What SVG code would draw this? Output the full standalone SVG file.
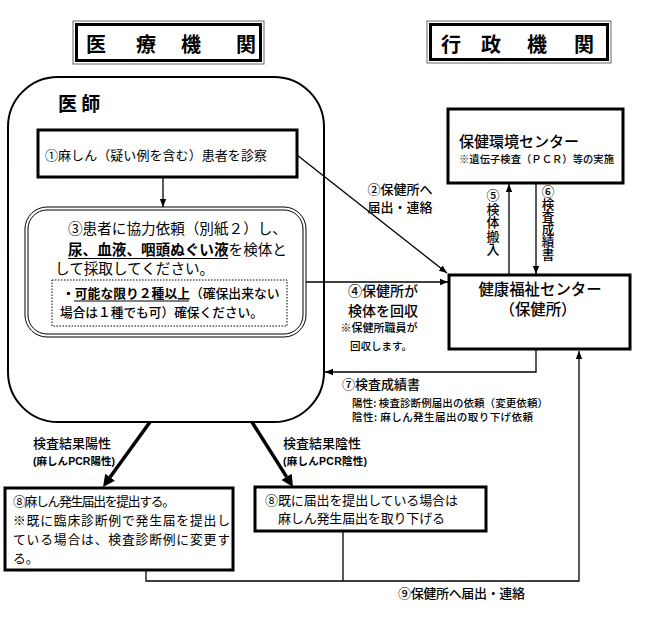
<svg xmlns="http://www.w3.org/2000/svg" width="650" height="617" viewBox="0 0 650 617">
<style>
text{font-family:"Noto Sans CJK JP","Noto Sans CJK SC","Liberation Sans",sans-serif;fill:#000}
.b{font-weight:bold}
.m{font-weight:500}
.box{fill:#fff;stroke:#000;stroke-width:3}
.ln{fill:none;stroke:#000;stroke-width:1.3}
.c{text-anchor:middle}
.v{writing-mode:vertical-rl;font-weight:500}
.lat{font-family:"Liberation Sans","Noto Sans CJK JP",sans-serif;font-weight:bold}
</style>
<defs>
<marker id="ah" viewBox="0 0 10 10" refX="10" refY="5" markerWidth="8" markerHeight="8" markerUnits="userSpaceOnUse" orient="auto"><path d="M0,1 L10,5 L0,9 z" fill="#000"/></marker>
</defs>
<rect x="0" y="0" width="650" height="617" fill="#fff"/>

<g id="title-iryo">
<rect x="73" y="21" width="191" height="43" fill="#fff" stroke="#666" stroke-width="1"/>
<rect x="76.5" y="24.5" width="184" height="36" fill="none" stroke="#000" stroke-width="3"/>
<text class="b c" font-size="20" y="52"><tspan x="96">医</tspan><tspan x="146">療</tspan><tspan x="191">機</tspan><tspan x="246">関</tspan></text>
</g>
<g id="title-gyosei">
<rect x="427" y="21" width="184" height="42" fill="#fff" stroke="#666" stroke-width="1"/>
<rect x="430.5" y="24.5" width="177" height="35" fill="none" stroke="#000" stroke-width="3"/>
<text class="b c" font-size="20" y="52"><tspan x="451">行</tspan><tspan x="491">政</tspan><tspan x="537">機</tspan><tspan x="584">関</tspan></text>
</g>

<g id="ishi">
<rect x="8" y="77" width="316" height="345" rx="50" ry="50" fill="none" stroke="#000" stroke-width="2"/>
<text class="b" font-size="19" x="58" y="111">医 師</text>
</g>

<g id="node1">
<rect class="box" x="38" y="130" width="259" height="47"/>
<text font-size="13" x="45" y="160" textLength="222">①麻しん（疑い例を含む）患者を診察</text>
</g>

<g id="node3">
<rect x="25" y="207" width="281" height="130" rx="22" fill="#fff" stroke="#000" stroke-width="1"/>
<rect x="28" y="210" width="275" height="124" rx="19" fill="none" stroke="#000" stroke-width="1"/>
<text font-size="14.6" x="68" y="234">③患者に協力依頼（別紙２）し、</text>
<text font-size="14.6" x="68" y="255"><tspan class="b">尿、血液、咽頭ぬぐい液</tspan>を検体と</text>
<line x1="68" y1="258.5" x2="228" y2="258.5" stroke="#000" stroke-width="1.2"/>
<text font-size="14.6" x="55" y="274">して採取してください。</text>
<rect x="52" y="280" width="235" height="46" fill="none" stroke="#000" stroke-width="1" stroke-dasharray="1.5,1.5"/>
<text font-size="12.8" x="62" y="298" class="m"><tspan class="b">・可能な限り２種以上</tspan>（確保出来ない</text>
<line x1="74" y1="301" x2="189" y2="301" stroke="#000" stroke-width="1.2"/>
<text font-size="12.7" x="60" y="317" class="m">場合は１種でも可）確保ください。</text>
</g>

<g id="hokenkankyo">
<rect class="box" x="448" y="109" width="175" height="74"/>
<text class="m" font-size="15" x="459" y="147">保健環境センター</text>
<text class="m" font-size="10.3" x="459" y="163" textLength="155">※遺伝子検査（ＰＣＲ）等の実施</text>
</g>

<g id="kenko">
<rect class="box" x="449" y="275" width="181" height="74"/>
<text class="m c" font-size="15.4" x="540" y="295">健康福祉センター</text>
<text class="m c" font-size="15.4" x="538" y="315">（保健所）</text>
</g>

<g id="node8a">
<rect class="box" x="5" y="488" width="228" height="82"/>
<text font-size="12.8" x="13" y="506" textLength="162">⑧麻しん発生届出を提出する。</text>
<text font-size="12.8" x="13" y="525" textLength="217">※既に臨床診断例で発生届を提出し</text>
<text font-size="12.8" x="13" y="544" textLength="217">ている場合は、検査診断例に変更す</text>
<text font-size="12.8" x="13" y="563">る。</text>
</g>

<g id="node8b">
<rect class="box" x="255" y="487" width="231" height="44"/>
<text font-size="13" x="265" y="505" textLength="193">⑧既に届出を提出している場合は</text>
<text font-size="13" x="278" y="523" textLength="167">麻しん発生届出を取り下げる</text>
</g>

<g id="connectors">
<line class="ln" x1="163" y1="177" x2="163" y2="207" marker-end="url(#ah)"/>
<line class="ln" x1="297" y1="155" x2="447" y2="273" marker-end="url(#ah)"/>
<line class="ln" x1="306" y1="282" x2="448" y2="282" marker-end="url(#ah)"/>
<line class="ln" x1="509" y1="274" x2="509" y2="184" marker-end="url(#ah)"/>
<line class="ln" x1="536" y1="183" x2="536" y2="274" marker-end="url(#ah)"/>
<polyline class="ln" points="536,349 536,372 325,372" marker-end="url(#ah)"/>
<polyline class="ln" points="146,570 146,581 579,581 579,351" marker-end="url(#ah)"/>
<line class="ln" x1="343" y1="531" x2="343" y2="581"/>
<line x1="150" y1="422" x2="110" y2="477.3" stroke="#000" stroke-width="3.5"/>
<polygon points="103,487 114.9,480.8 105.2,473.8" fill="#000"/>
<line x1="252" y1="422" x2="286.6" y2="476.9" stroke="#000" stroke-width="3.5"/>
<polygon points="293,487 291.7,473.7 281.5,480.1" fill="#000"/>
</g>

<g id="labels">
<text class="m c" font-size="13" x="400" y="194">②保健所へ</text>
<text class="m c" font-size="13" x="400" y="212">届出・連絡</text>
<text class="v" font-size="13" x="493" y="189" letter-spacing="0.4">⑤検体搬入</text>
<text class="v" font-size="12.6" x="548" y="185">⑥検査成績書</text>
<text class="m c" font-size="14" x="383" y="296">④保健所が</text>
<text class="m c" font-size="14" x="383" y="316">検体を回収</text>
<text class="m c" font-size="11" x="379" y="332">※保健所職員が</text>
<text class="m c" font-size="10.5" x="381" y="350">回収します。</text>
<text class="m" font-size="13" x="342" y="389">⑦検査成績書</text>
<text class="m" font-size="10.5" x="352" y="407" textLength="196">陽性: 検査診断例届出の依頼（変更依頼）</text>
<text class="m" font-size="10.5" x="352" y="421" textLength="181">陰性: 麻しん発生届出の取り下げ依頼</text>
<text class="m" font-size="13" x="33" y="448">検査結果陽性</text>
<text class="lat" font-size="10.5" x="33" y="465" textLength="82">(麻しんPCR陽性)</text>
<text class="m" font-size="13" x="283" y="448">検査結果陰性</text>
<text class="lat" font-size="10.5" x="283" y="465" textLength="84">(麻しんPCR陰性)</text>
<text class="m" font-size="13" x="398" y="598" textLength="127">⑨保健所へ届出・連絡</text>
</g>
</svg>
